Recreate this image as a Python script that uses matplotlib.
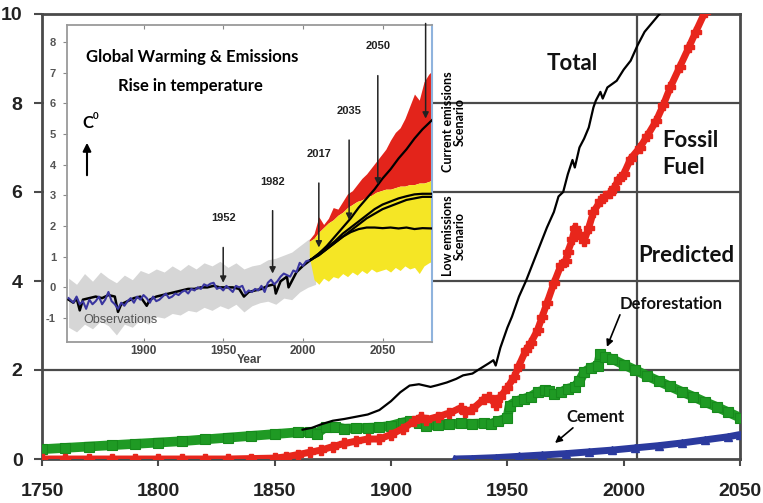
import numpy as np
import matplotlib
matplotlib.use("Agg")
import matplotlib.pyplot as plt
from matplotlib.patches import Rectangle, FancyArrowPatch

# ---------------- Main chart: carbon emissions by source ----------------
fossil_years = [1750, 1760, 1770, 1780, 1790, 1800, 1810, 1820, 1830, 1840, 1850,
                1855, 1860, 1865, 1870, 1875, 1880, 1885, 1890, 1895, 1900, 1905,
                1910, 1913, 1915, 1920, 1925, 1930, 1932, 1935, 1940, 1942, 1945,
                1947, 1950, 1953, 1955, 1958, 1960, 1963, 1965, 1967, 1970, 1973,
                1975, 1976, 1978, 1979, 1981, 1983, 1985, 1987, 1990, 1992, 1994,
                1996, 1998, 2000, 2003, 2007, 2010, 2014, 2017, 2020, 2024, 2028,
                2031, 2035]
fossil_vals = [0.0, 0.0, 0.0, 0.0, 0.0, 0.0, 0.0, 0.0, 0.0, 0.01, 0.02,
               0.05, 0.1, 0.15, 0.2, 0.28, 0.35, 0.4, 0.45, 0.45, 0.55, 0.68,
               0.85, 0.95, 0.88, 0.95, 1.03, 1.15, 1.05, 1.12, 1.35, 1.4, 1.22,
               1.4, 1.6, 1.85, 2.1, 2.45, 2.6, 2.9, 3.2, 3.5, 3.95, 4.35,
               4.45, 4.65, 4.95, 5.2, 5.05, 4.9, 5.2, 5.55, 5.8, 5.9, 5.97,
               6.1, 6.3, 6.4, 6.75, 7.0, 7.25, 7.6, 7.95, 8.35, 8.8, 9.25,
               9.6, 10.05]

total_years = [1862, 1866, 1870, 1875, 1880, 1885, 1890, 1895, 1900, 1904, 1908,
               1912, 1917, 1920, 1924, 1928, 1931, 1935, 1938, 1942, 1944, 1945,
               1947, 1950, 1952, 1955, 1958, 1961, 1964, 1967, 1970, 1972, 1974,
               1976, 1978, 1979, 1981, 1983, 1985, 1987, 1988, 1990, 1991, 1993,
               1997, 2000, 2003, 2006, 2009, 2013, 2017]
total_vals = [0.66, 0.7, 0.78, 0.86, 0.9, 0.95, 1.0, 1.1, 1.3, 1.5, 1.65,
              1.68, 1.62, 1.66, 1.72, 1.8, 1.88, 1.92, 2.02, 2.15, 2.22, 2.1,
              2.5, 2.95, 3.2, 3.65, 4.0, 4.4, 4.8, 5.2, 5.55, 5.9, 6.0,
              6.4, 6.72, 6.55, 7.0, 7.2, 7.45, 7.9, 8.05, 8.25, 8.1, 8.35,
              8.5, 8.75, 8.95, 9.3, 9.6, 9.85, 10.1]

defor_years = [1750, 1760, 1770, 1780, 1790, 1800, 1810, 1820, 1830, 1840, 1850,
               1860, 1865, 1868, 1872, 1876, 1880, 1885, 1890, 1895, 1900, 1905,
               1908, 1912, 1915, 1920, 1925, 1930, 1935, 1940, 1943, 1946, 1950,
               1951, 1954, 1957, 1960, 1963, 1966, 1968, 1970, 1973, 1976, 1979,
               1981, 1983, 1986, 1989, 1990, 1992, 1995, 2000, 2005, 2010, 2015,
               2020, 2025, 2030, 2035, 2040, 2045, 2050]
defor_vals = [0.22, 0.25, 0.28, 0.31, 0.34, 0.37, 0.4, 0.44, 0.48, 0.52, 0.56,
              0.6, 0.6, 0.57, 0.72, 0.72, 0.68, 0.69, 0.7, 0.71, 0.75, 0.82,
              0.85, 0.8, 0.75, 0.76, 0.78, 0.8, 0.79, 0.8, 0.79, 0.85, 0.92,
              1.2, 1.3, 1.35, 1.4, 1.5, 1.55, 1.52, 1.45, 1.5, 1.58, 1.62,
              1.75, 1.95, 2.05, 2.1, 2.35, 2.3, 2.25, 2.12, 2.0, 1.87, 1.75,
              1.63, 1.51, 1.4, 1.28, 1.17, 1.05, 0.93]

cement_years = [1927, 1935, 1945, 1955, 1965, 1975, 1985, 1995, 2005, 2015,
                2025, 2035, 2045, 2050]
cement_vals = [0.0, 0.01, 0.03, 0.06, 0.09, 0.12, 0.16, 0.2, 0.25, 0.3,
               0.36, 0.43, 0.5, 0.55]

main_xticks = [1750, 1800, 1850, 1900, 1950, 2000, 2050]
main_yticks = [0, 2, 4, 6, 8, 10]
grid_levels = [2, 4, 6, 8]
divider_year = 2005.7

# ---------------- Inset: global temperature rise (deg C) ----------------
obs_years = [1853, 1856, 1858, 1860, 1862, 1864, 1866, 1868, 1870, 1872, 1874,
             1876, 1878, 1880, 1882, 1884, 1886, 1888, 1890, 1892, 1894, 1896,
             1898, 1900, 1902, 1904, 1906, 1908, 1910, 1912, 1914, 1916, 1918,
             1920, 1922, 1924, 1926, 1928, 1930, 1932, 1934, 1936, 1938, 1940,
             1942, 1944, 1946, 1948, 1950, 1952, 1954, 1956, 1958, 1960, 1962,
             1964, 1966, 1968, 1970, 1972, 1974, 1976, 1978, 1980, 1982, 1984,
             1986, 1988, 1990, 1992, 1994, 1996, 1998, 2000, 2002, 2005]
obs_vals = [-0.35, -0.5, -0.3, -0.55, -0.45, -0.7, -0.4, -0.55, -0.45, -0.3, -0.55,
            -0.4, -0.15, -0.45, -0.55, -0.7, -0.5, -0.6, -0.45, -0.35, -0.5, -0.3,
            -0.4, -0.25, -0.35, -0.5, -0.3, -0.45, -0.4, -0.3, -0.2, -0.35, -0.3,
            -0.2, -0.25, -0.15, -0.1, -0.2, -0.05, -0.1, 0.0, -0.05, 0.1, 0.05,
            0.12, 0.15, -0.05, 0.0, -0.1, 0.05, -0.05, -0.15, 0.05, 0.0, 0.05,
            -0.2, -0.1, -0.15, -0.05, -0.1, 0.05, -0.15, 0.15, 0.25, 0.1, 0.2,
            0.35, 0.45, 0.4, 0.35, 0.55, 0.5, 0.8, 0.7, 0.85, 0.9]

model_years = [1853, 1856, 1858, 1860, 1862, 1866, 1870, 1874, 1878, 1882, 1884,
               1886, 1890, 1894, 1898, 1902, 1904, 1908, 1912, 1916, 1920, 1924,
               1928, 1932, 1936, 1940, 1944, 1948, 1952, 1956, 1960, 1963, 1966,
               1970, 1974, 1978, 1982, 1983, 1986, 1990, 1991, 1993, 1996, 2000,
               2005]
model_vals = [-0.4, -0.5, -0.35, -0.75, -0.4, -0.35, -0.3, -0.35, -0.25, -0.3, -0.8,
              -0.55, -0.45, -0.35, -0.3, -0.6, -0.4, -0.3, -0.25, -0.2, -0.15, -0.1,
              -0.05, -0.05, 0.0, 0.0, 0.05, 0.0, 0.0, 0.0, -0.05, -0.3, -0.15,
              -0.1, -0.05, 0.05, 0.1, -0.2, 0.2, 0.35, 0.0, 0.2, 0.5, 0.7,
              0.9]

spread_years = [1853, 1858, 1863, 1868, 1873, 1878, 1883, 1888, 1893, 1898, 1903,
                1908, 1913, 1918, 1923, 1928, 1933, 1938, 1943, 1948, 1953, 1958,
                1963, 1968, 1973, 1978, 1983, 1988, 1993, 1998, 2003, 2008]
spread_hi = [0.3, 0.1, 0.45, 0.2, 0.5, 0.3, 0.15, 0.4, 0.25, 0.55, 0.45,
             0.6, 0.5, 0.7, 0.55, 0.75, 0.6, 0.8, 0.7, 0.85, 0.65, 0.8,
             0.6, 0.7, 0.75, 0.9, 0.95, 1.05, 1.15, 1.35, 1.55, 1.7]
spread_lo = [-1.3, -1.45, -1.2, -1.35, -1.1, -1.25, -1.55, -1.2, -1.3, -1.05, -1.2,
             -0.95, -1.0, -0.85, -0.9, -0.75, -0.8, -0.65, -0.75, -0.6, -0.7, -0.55,
             -0.8, -0.6, -0.5, -0.45, -0.55, -0.35, -0.4, -0.15, 0.0, 0.1]

proj_years = [2004, 2007, 2010, 2013, 2016, 2019, 2022, 2025, 2028, 2031, 2034,
              2037, 2040, 2043, 2046, 2049, 2052, 2055, 2058, 2061, 2064, 2067,
              2070, 2073, 2076, 2079, 2081]
low_hi = [1.5, 1.6, 1.8, 1.95, 2.1, 2.2, 2.35, 2.45, 2.6, 2.7, 2.8,
          2.85, 2.95, 3.0, 3.1, 3.15, 3.2, 3.2, 3.25, 3.3, 3.3, 3.35,
          3.35, 3.4, 3.4, 3.45, 3.5]
low_lo = [1.0, 0.25, 0.1, 0.3, 0.2, 0.35, 0.3, 0.45, 0.35, 0.5, 0.4,
          0.55, 0.45, 0.6, 0.5, 0.55, 0.6, 0.5, 0.65, 0.55, 0.7, 0.6,
          0.65, 0.45, 0.7, 0.8, 0.85]
high_hi = [1.55, 1.75, 2.3, 2.05, 2.25, 2.6, 2.55, 2.8, 3.05, 3.15, 3.35,
           3.55, 3.7, 3.9, 4.1, 4.3, 4.5, 4.8, 5.05, 5.2, 5.5, 5.9,
           6.3, 6.1, 6.7, 6.95, 7.05]

path_years = [2005, 2010, 2015, 2020, 2025, 2030, 2035, 2040, 2045, 2050, 2055,
              2060, 2065, 2070, 2075, 2081]
path_a = [0.9, 1.1, 1.35, 1.65, 1.95, 2.25, 2.6, 2.9, 3.2, 3.55, 3.85,
          4.2, 4.5, 4.85, 5.15, 5.45]
path_b = [0.9, 1.1, 1.3, 1.5, 1.75, 1.95, 2.15, 2.35, 2.55, 2.7, 2.8,
          2.9, 2.97, 3.03, 3.05, 3.05]
path_c = [0.9, 1.05, 1.25, 1.45, 1.65, 1.85, 2.05, 2.25, 2.4, 2.55, 2.65,
          2.75, 2.85, 2.9, 2.95, 2.95]
path_d = [0.9, 1.05, 1.25, 1.45, 1.65, 1.8, 1.9, 1.95, 1.95, 1.93, 1.95,
          1.92, 1.95, 1.9, 1.93, 1.92]

# milestone arrows: (year, arrow start, arrow end, label)
milestones = [(1950, 1.3, 0.15, "1952"),
              (1981, 2.5, 0.45, "1982"),
              (2010, 3.4, 1.3, "2017"),
              (2029, 4.8, 2.2, "2035"),
              (2047, 6.9, 3.35, "2050"),
              (2077, 8.6, 5.5, "")]

inset_xticks = [1900, 1950, 2000, 2050]
inset_yticks = [-1, 0, 1, 2, 3, 4, 5, 6, 7, 8]

# ---------------- Figure ----------------
W, H = 763, 503
fig = plt.figure(figsize=(W / 100, H / 100), dpi=100)


def fx(x):
    return x / W


def fy(y):
    return 1 - y / H


ARIAL = "Liberation Sans"
CALIBRI = "Lato"
EDGE = "#4a4a4a"

ax = fig.add_axes([fx(42), fy(459), fx(740) - fx(42), fy(14) - fy(459)])
ax.set_zorder(0)
ax.set_xlim(1750, 2050)
ax.set_ylim(0, 10)
for s in ax.spines.values():
    s.set_color(EDGE)
    s.set_linewidth(2)
for lvl in grid_levels:
    ax.axhline(lvl, color=EDGE, lw=1.6, zorder=1)
ax.axvline(divider_year, color=EDGE, lw=1.6, zorder=1)

ax.plot(cement_years, cement_vals, color="#2b3a9e", lw=5, marker="^", ms=6,
        mec="#2b3a9e", zorder=3, solid_capstyle="butt")
ax.plot(defor_years, defor_vals, color="#1f9a24", lw=7, marker="s", ms=7,
        mec="#178a1c", mew=0.8, zorder=3, solid_capstyle="butt")
ax.plot(fossil_years, fossil_vals, color="#e8261c", lw=5, marker="P", ms=6.5,
        mec="#e8261c", zorder=4, solid_capstyle="butt")
ax.plot(total_years, total_vals, color="black", lw=1.6, zorder=5)

ax.set_xticks(main_xticks)
ax.set_yticks(main_yticks)
ax.set_xticklabels([str(t) for t in main_xticks], fontsize=14, fontweight="bold",
                   family=ARIAL, color="#222222")
ax.set_yticklabels([str(t) for t in main_yticks], fontsize=14, fontweight="bold",
                   family=ARIAL, color="#222222")
ax.tick_params(axis="x", length=5, width=1.5, pad=12, color=EDGE)
ax.tick_params(axis="y", length=6, width=1.5, pad=8, color=EDGE)

big = dict(family=CALIBRI, fontweight="bold", color="#111111")
ax.text(1977.8, 8.88, "Total", fontsize=16, ha="center", va="center", **big)
ax.text(2016.4, 6.85, "Fossil\nFuel", fontsize=16, ha="left", va="center",
        linespacing=1.35, **big)
ax.text(2027.0, 4.58, "Predicted", fontsize=16, ha="center", va="center", **big)
ax.text(2020.3, 3.48, "Deforestation", fontsize=12, ha="center", va="center", **big)
ax.text(1988.0, 0.94, "Cement", fontsize=12, ha="center", va="center", **big)
arrow_kw = dict(arrowstyle="-|>", color="black", lw=1.2, mutation_scale=10,
                shrinkA=0, shrinkB=0)
ax.annotate("", xy=(1992.8, 2.52), xytext=(1998.4, 3.24), arrowprops=arrow_kw)
ax.annotate("", xy=(1970.5, 0.36), xytext=(1978.2, 0.70), arrowprops=arrow_kw)

# white panel holding the temperature inset
fig.add_artist(Rectangle((fx(44), fy(367)), fx(432) - fx(44), fy(16) - fy(367),
                         transform=fig.transFigure, facecolor="white",
                         edgecolor="none", zorder=1))

axi = fig.add_axes([fx(67), fy(342), fx(432) - fx(67), fy(25) - fy(342)])
axi.set_zorder(2)
axi.set_xlim(1852, 2081)
axi.set_ylim(-1.78, 8.55)

axi.fill_between(spread_years, spread_lo, spread_hi, color="#d6d6d6", lw=0, zorder=2)
axi.fill_between(proj_years, low_hi, high_hi, color="#e3241b", lw=0, zorder=2)
axi.fill_between(proj_years, low_lo, low_hi, color="#f5e625", lw=0, zorder=2)
axi.plot(model_years, model_vals, color="black", lw=1.8, zorder=3)
axi.plot(obs_years, obs_vals, color="#3a36a0", lw=1.5, zorder=4)
for path in (path_a, path_b, path_c, path_d):
    axi.plot(path_years, path, color="black", lw=1.6, zorder=5)

for yr, y0, y1, lab in milestones:
    axi.annotate("", xy=(yr, y1), xytext=(yr, y0),
                 arrowprops=dict(arrowstyle="-|>", color="#222222", lw=1.1,
                                 mutation_scale=9, shrinkA=0, shrinkB=0),
                 zorder=6)
    if lab:
        axi.text(yr, y0 + 0.95, lab, fontsize=8, fontweight="bold", family=ARIAL,
                 ha="center", va="center", color="#222222")

axi.text(1862, -1.05, "Observations", fontsize=9, family=ARIAL, color="#555555",
         ha="left", va="center", zorder=7)

axi.set_xticks(inset_xticks)
axi.set_yticks(inset_yticks)
axi.set_xticklabels([str(t) for t in inset_xticks], fontsize=8.5, family=ARIAL,
                    fontweight="bold", color="#444444")
axi.set_yticklabels([str(t) for t in inset_yticks], fontsize=8, family=ARIAL,
                    fontweight="bold", color="#555555")
axi.tick_params(axis="x", direction="in", length=3, top=True, pad=2, color="#888888")
axi.tick_params(axis="y", direction="out", length=3, pad=5, color="#888888")
axi.set_xlabel("Year", fontsize=8.5, family=ARIAL, fontweight="bold",
               color="#444444", labelpad=-2)
for side in ("left", "bottom", "top"):
    axi.spines[side].set_color("#9a9a9a")
    axi.spines[side].set_linewidth(1.3)
axi.spines["right"].set_color("#8fb3dd")
axi.spines["right"].set_linewidth(1.5)

# inset headings and scenario labels
fig.text(fx(192), fy(57), "Global Warming & Emissions", fontsize=12,
         family=CALIBRI, fontweight="bold", ha="center", va="center", zorder=4)
fig.text(fx(190), fy(86), "Rise in temperature", fontsize=12,
         family=CALIBRI, fontweight="bold", ha="center", va="center", zorder=4)
fig.text(fx(88), fy(123), "C", fontsize=12, family=CALIBRI, fontweight="bold",
         ha="center", va="center", zorder=4)
fig.text(fx(96), fy(116), "0", fontsize=7, family=CALIBRI, fontweight="bold",
         ha="center", va="center", zorder=4)
fig.add_artist(FancyArrowPatch(
    (fx(87), fy(178)), (fx(87), fy(140)), transform=fig.transFigure,
    arrowstyle="-|>", mutation_scale=12, lw=1.5, color="black", zorder=4))

fig.text(fx(454), fy(122), "Current emissions\nScenario", rotation=90,
         fontsize=9, family=CALIBRI, fontweight="bold", ha="center",
         va="center", linespacing=1.05, zorder=4)
fig.text(fx(454), fy(236), "Low emissions\nScenario", rotation=90,
         fontsize=9, family=CALIBRI, fontweight="bold", ha="center",
         va="center", linespacing=1.05, zorder=4)

fig.savefig("out.png", dpi=100, facecolor="white")
